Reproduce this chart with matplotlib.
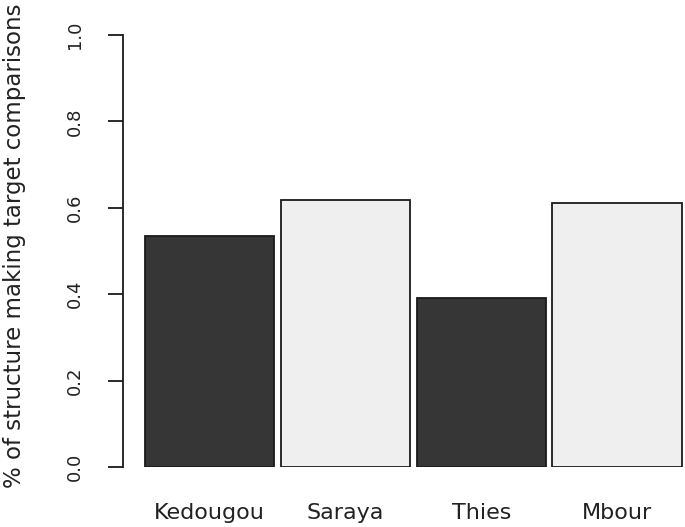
import matplotlib
matplotlib.use("Agg")
import matplotlib.pyplot as plt

# data
sites = ["Kedougou", "Saraya", "Thies", "Mbour"]
share = [0.535, 0.617, 0.391, 0.610]
fills = ["#363636", "#efefef", "#363636", "#efefef"]
yticks = [0.0, 0.2, 0.4, 0.6, 0.8, 1.0]

plt.rcParams["font.family"] = "DejaVu Sans"

fig = plt.figure(figsize=(6.85, 5.27), dpi=100)
ax = fig.add_axes([123 / 685, 60 / 527, 562 / 685, 432 / 527])

# R-style barplot: width 1, small space between bars
gap = 0.05
lefts = [gap + i * (1 + gap) for i in range(len(sites))]
centers = [l + 0.5 for l in lefts]
ax.bar(centers, share, width=1.0, color=fills, edgecolor="#1a1a1a", linewidth=1.3)

ax.set_xlim(-0.12, 4.225)
ax.set_ylim(0, 1)

for s in ["top", "right", "bottom"]:
    ax.spines[s].set_visible(False)
ax.spines["left"].set_linewidth(1.3)
ax.spines["left"].set_color("#1a1a1a")

ax.set_yticks(yticks)
ax.set_yticklabels([f"{v:.1f}" for v in yticks], rotation=90, va="center",
                   fontsize=13, color="#222222")
ax.tick_params(axis="y", length=11, width=1.3, color="#1a1a1a", pad=17)

ax.set_xticks(centers)
ax.set_xticklabels(sites, fontsize=16, color="#222222")
ax.tick_params(axis="x", length=0, pad=26)

ax.set_ylabel("% of structure making target comparisons", fontsize=16.5,
              color="#222222")
ax.yaxis.set_label_coords(-97 / 562, 0.513)

fig.savefig("out.png", dpi=100)
